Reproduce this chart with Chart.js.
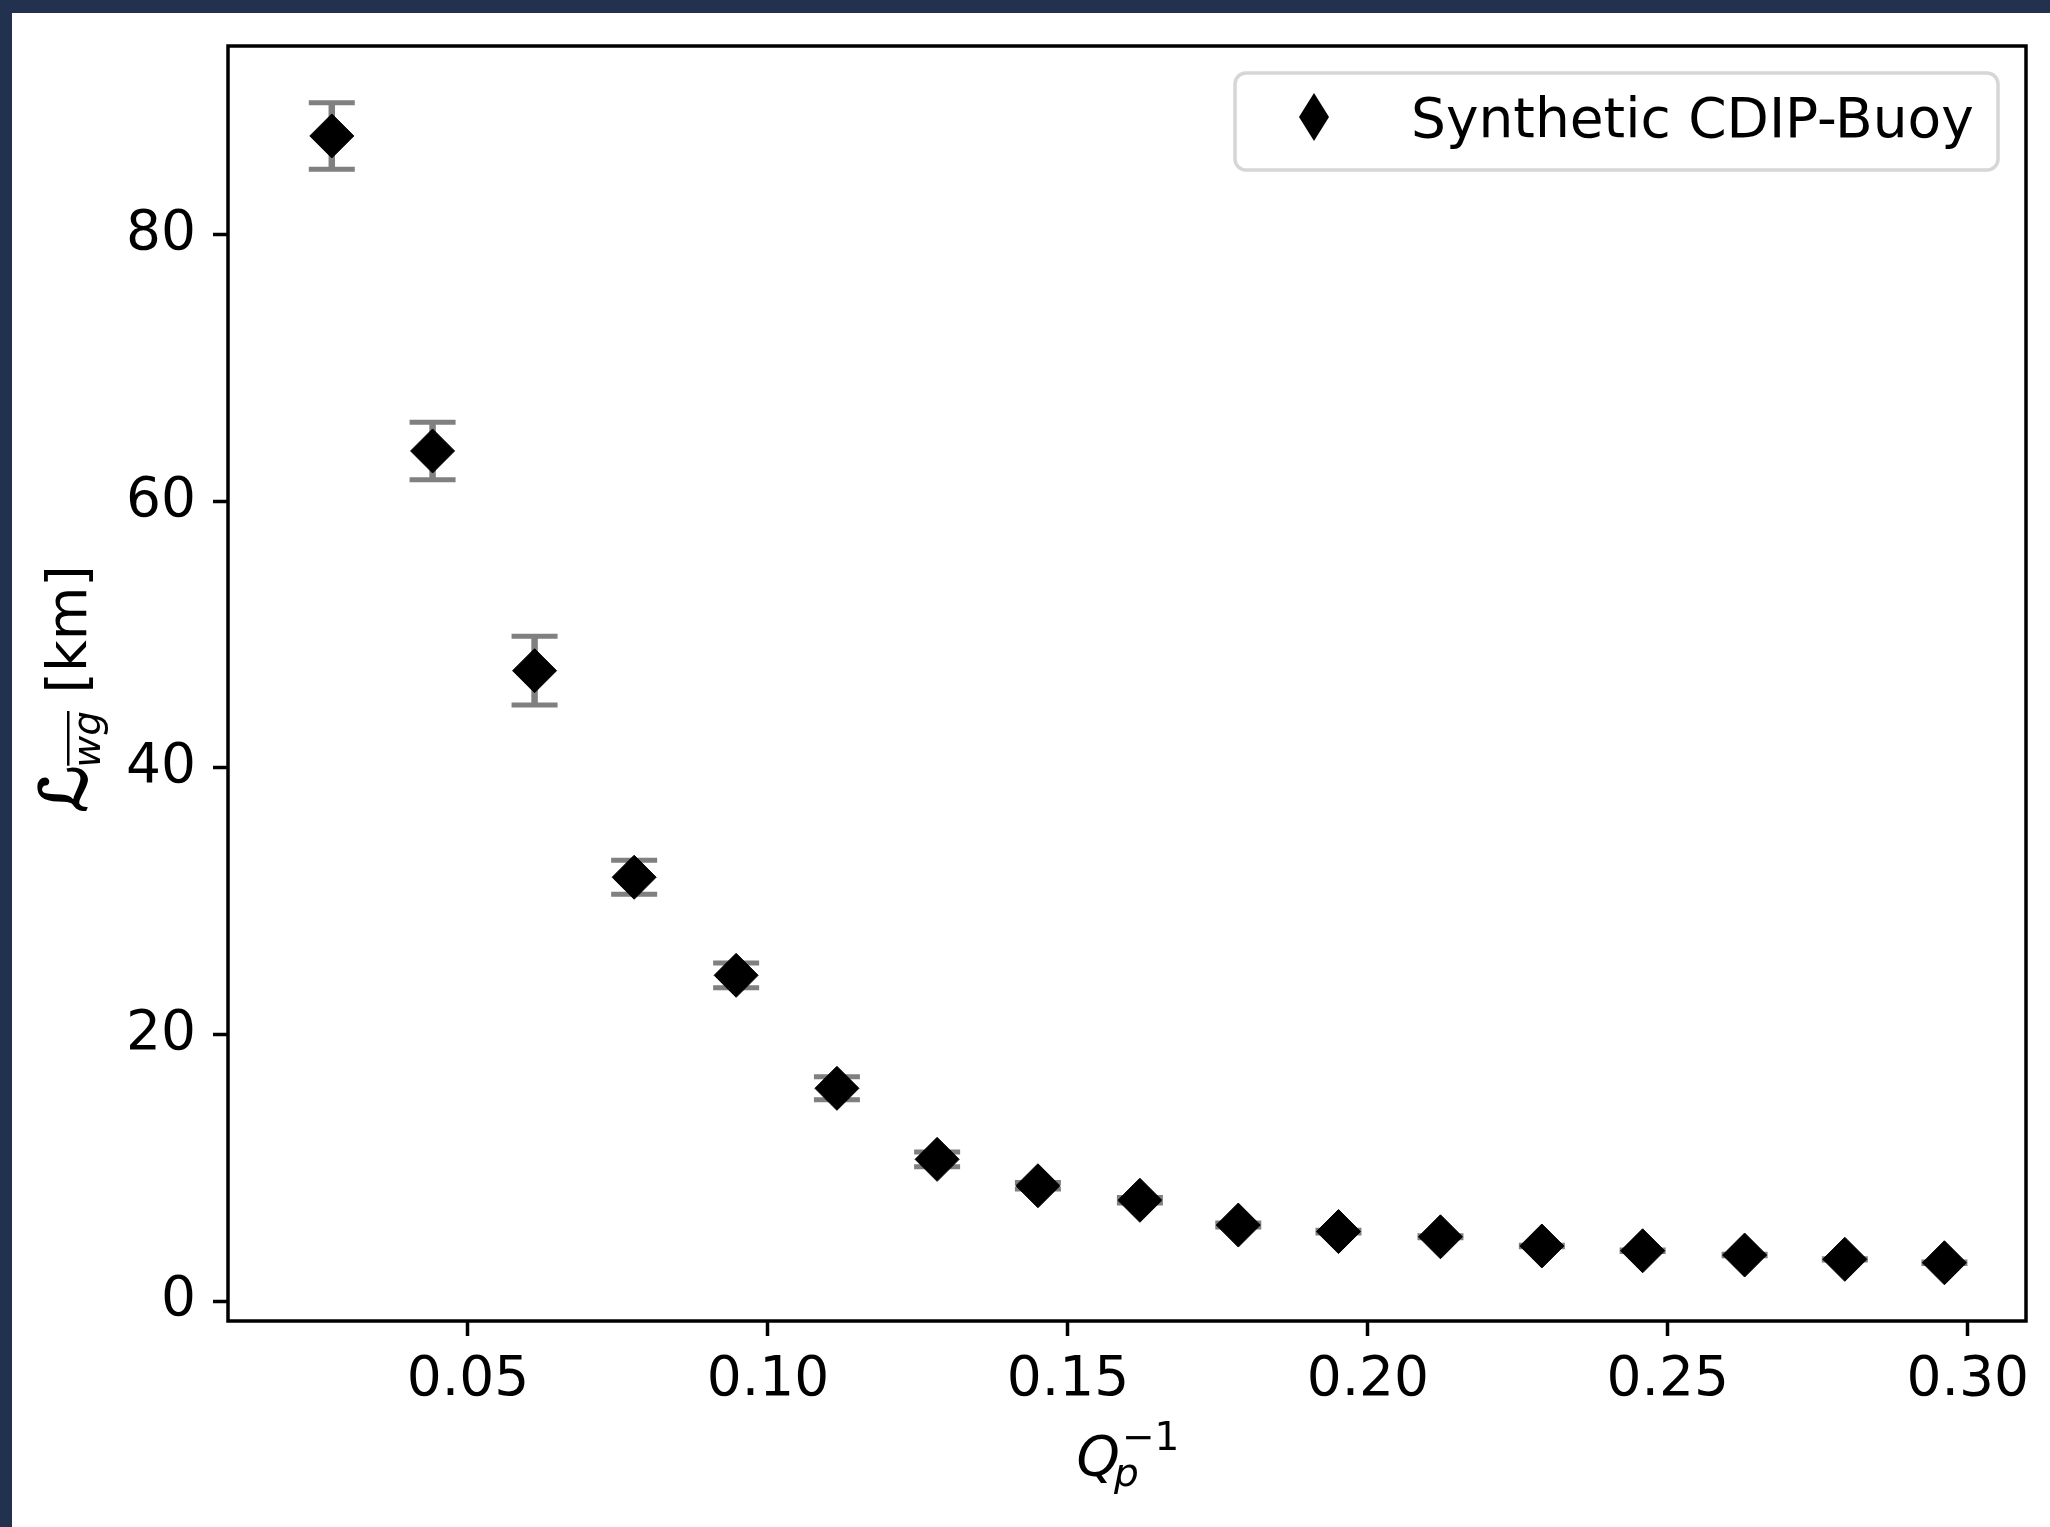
<!DOCTYPE html>
<html>
<head>
<meta charset="utf-8">
<script src="https://cdn.jsdelivr.net/npm/chart.js@4.4.0/dist/chart.umd.min.js"></script>
<style>
  html, body { margin: 0; padding: 0; width: 2050px; height: 1527px; overflow: hidden; background: #22314e; }
  #frame { position: absolute; left: 12px; top: 13px; width: 2038px; height: 1514px; background: #fff; }
  canvas { display: block; }
</style>
</head>
<body>
<div id="frame"><canvas id="chart" width="2038" height="1514"></canvas></div>
<script>
// Data
const xValues = [0.0273, 0.0441, 0.0611, 0.0777, 0.0947, 0.1115, 0.1282, 0.1450, 0.1620,
                 0.1784, 0.1951, 0.2121, 0.2290, 0.2458, 0.2628, 0.2795, 0.2961];
const yValues = [87.43, 63.79, 47.30, 31.80, 24.44, 15.96, 10.63, 8.65, 7.56,
                 5.70, 5.21, 4.82, 4.13, 3.77, 3.45, 3.13, 2.87];
const yErrors = [2.50, 2.16, 2.58, 1.28, 0.93, 0.86, 0.56, 0.25, 0.20,
                 0.15, 0.10, 0.08, 0.05, 0.05, 0.05, 0.05, 0.05];
const xTicks = [0.05, 0.10, 0.15, 0.20, 0.25, 0.30];
const yTicks = [0, 20, 40, 60, 80];
const seriesLabel = 'Synthetic CDIP-Buoy';

const FONT = '"DejaVu Sans", Verdana, sans-serif';

// Vertical error bars with caps, drawn under the markers
const errorBars = {
    id: 'errorBars',
    beforeDatasetsDraw(chart) {
        const { ctx, scales: { x, y } } = chart;
        ctx.save();
        ctx.strokeStyle = '#808080';
        xValues.forEach((xv, i) => {
            const px = x.getPixelForValue(xv);
            const top = y.getPixelForValue(yValues[i] + yErrors[i]);
            const bot = y.getPixelForValue(yValues[i] - yErrors[i]);
            ctx.lineWidth = 6.5;
            ctx.beginPath();
            ctx.moveTo(px, top);
            ctx.lineTo(px, bot);
            ctx.stroke();
            ctx.lineWidth = 5;
            ctx.beginPath();
            ctx.moveTo(px - 23, top); ctx.lineTo(px + 23, top);
            ctx.moveTo(px - 23, bot); ctx.lineTo(px + 23, bot);
            ctx.stroke();
        });
        ctx.restore();
    }
};

// Box round the plot area (all four spines)
const spines = {
    id: 'spines',
    afterDraw(chart) {
        const { ctx, chartArea: a } = chart;
        ctx.save();
        ctx.strokeStyle = '#000';
        ctx.lineWidth = 3.5;
        ctx.strokeRect(a.left, a.top, a.right - a.left, a.bottom - a.top);
        ctx.restore();
    }
};

// Legend box in the upper right corner of the plot
const cornerLegend = {
    id: 'cornerLegend',
    afterDraw(chart) {
        const { ctx, chartArea: a } = chart;
        const right = a.right - 28, top = a.top + 27, w = 763, h = 97;
        const left = right - w;
        ctx.save();
        ctx.fillStyle = 'rgba(255,255,255,0.8)';
        ctx.strokeStyle = '#d6d6d6';
        ctx.lineWidth = 3.5;
        ctx.beginPath();
        ctx.roundRect(left, top, w, h, 11);
        ctx.fill();
        ctx.stroke();
        // thin diamond marker
        const mx = left + 79, my = top + 44;
        ctx.fillStyle = '#000';
        ctx.beginPath();
        ctx.moveTo(mx, my - 24);
        ctx.lineTo(mx + 15, my);
        ctx.lineTo(mx, my + 24);
        ctx.lineTo(mx - 15, my);
        ctx.closePath();
        ctx.fill();
        ctx.font = '55px ' + FONT;
        ctx.textBaseline = 'alphabetic';
        ctx.fillText(chart.data.datasets[0].label, left + 176, top + 64);
        ctx.restore();
    }
};

// Axis titles with sub/superscripts
const axisTitles = {
    id: 'axisTitles',
    afterDraw(chart) {
        const { ctx, chartArea: a } = chart;
        const big = '55px ' + FONT, bigIt = 'italic 55px ' + FONT;
        const small = '39px ' + FONT, smallIt = 'italic 39px ' + FONT;
        const script = '64px ' + FONT;
        ctx.save();
        ctx.fillStyle = '#000';
        ctx.strokeStyle = '#000';
        ctx.textBaseline = 'alphabetic';

        // x: Q_p^{-1}
        ctx.font = bigIt; const wQ = ctx.measureText('Q').width;
        ctx.font = small; const wSup = ctx.measureText('\u22121').width;
        ctx.font = smallIt; const wSub = ctx.measureText('p').width;
        const total = wQ + Math.max(wSup, wSub);
        let x0 = (a.left + a.right) / 2 - total / 2;
        const base = a.bottom + 154;
        ctx.font = bigIt; ctx.fillText('Q', x0, base);
        ctx.font = small; ctx.fillText('\u22121', x0 + wQ + 2, base - 25);
        ctx.font = smallIt; ctx.fillText('p', x0 + wQ - 6, base + 11);

        // y: L_{overline{wg}} [km], rotated
        ctx.translate(74, (a.top + a.bottom) / 2);
        ctx.rotate(-Math.PI / 2);
        ctx.font = script; const wL = ctx.measureText('\u2112').width;
        ctx.font = smallIt; const wWg = ctx.measureText('wg').width;
        ctx.font = big; const wKm = ctx.measureText(' [km]').width;
        const tot = wL + wWg + wKm;
        let cx = -tot / 2 - 4;
        ctx.font = script;
        ctx.lineWidth = 2.2;
        ctx.fillText('\u2112', cx, 0);
        ctx.strokeText('\u2112', cx, 0);
        cx += wL - 2;
        ctx.font = smallIt; ctx.fillText('wg', cx, 14);
        ctx.fillRect(cx + 2, 14 - 33, wWg - 2, 2.5);
        cx += wWg;
        ctx.font = big; ctx.fillText(' [km]', cx, 0);
        ctx.restore();
    }
};

const points = xValues.map((x, i) => ({ x, y: yValues[i] }));

new Chart(document.getElementById('chart'), {
    type: 'scatter',
    data: {
        datasets: [{
            label: seriesLabel,
            data: points,
            pointStyle: 'rectRot',
            pointRadius: 22,
            pointHoverRadius: 22,
            backgroundColor: '#000',
            borderColor: '#000',
            borderWidth: 1,
            showLine: false
        }]
    },
    options: {
        responsive: false,
        animation: false,
        devicePixelRatio: 1,
        layout: { padding: { top: 33, right: 24, left: 0, bottom: 0 } },
        plugins: {
            legend: { display: false },
            tooltip: { enabled: false }
        },
        scales: {
            x: {
                type: 'linear',
                min: 0.010,
                max: 0.3097,
                afterBuildTicks: s => { s.ticks = xTicks.map(v => ({ value: v })); },
                afterFit: s => { s.height = 206; s.paddingLeft = 0; s.paddingRight = 0; },
                grid: { display: true, drawOnChartArea: false, drawTicks: true, tickLength: 15, tickWidth: 3.5, tickColor: '#000' },
                border: { display: false },
                ticks: {
                    autoSkip: false, maxRotation: 0, padding: 12, color: '#000',
                    font: { family: FONT, size: 55 },
                    callback: v => v.toFixed(2)
                }
            },
            y: {
                type: 'linear',
                min: -1.5,
                max: 94.18,
                afterBuildTicks: s => { s.ticks = yTicks.map(v => ({ value: v })); },
                afterFit: s => { s.width = 216; s.paddingTop = 0; s.paddingBottom = 0; },
                grid: { display: true, drawOnChartArea: false, drawTicks: true, tickLength: 15, tickWidth: 3.5, tickColor: '#000' },
                border: { display: false },
                ticks: {
                    autoSkip: false, padding: 17, color: '#000',
                    font: { family: FONT, size: 55 },
                    callback: v => String(v)
                }
            }
        }
    },
    plugins: [errorBars, spines, cornerLegend, axisTitles]
});
</script>
</body>
</html>
